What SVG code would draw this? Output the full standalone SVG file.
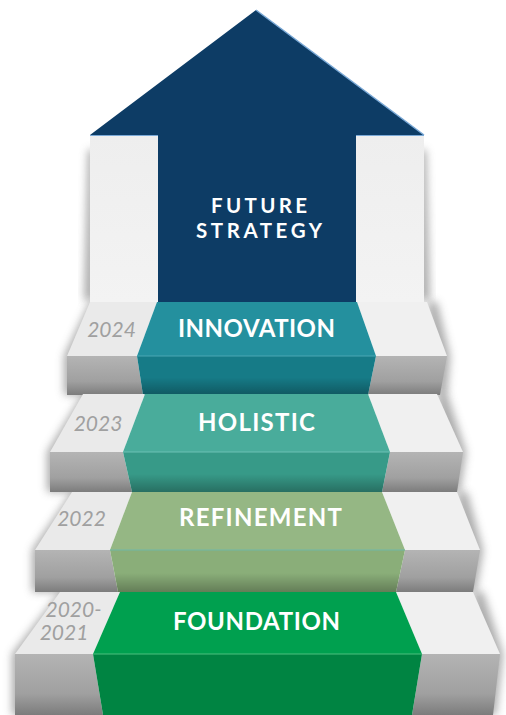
<svg xmlns="http://www.w3.org/2000/svg" width="506" height="715" viewBox="0 0 506 715">
<style>
.lbl{font-family:Lato,"Open Sans","Liberation Sans",sans-serif;font-weight:700;fill:#ffffff;font-size:24px;text-anchor:middle}
.fut{font-family:Lato,"Open Sans","Liberation Sans",sans-serif;font-weight:700;fill:#ffffff;font-size:20.5px;text-anchor:middle}
.yr{font-family:Lato,"Open Sans","Liberation Sans",sans-serif;font-style:italic;font-weight:400;fill:#a0a0a0;font-size:21px;text-anchor:middle}
.wtop{fill:#eaeaea}
.wtopr{fill:#f0f0f0}
.gfront{fill:url(#gfr)}
.shade{fill:url(#bshade)}
.sh{fill:#5a5a5a;opacity:0.5;filter:url(#blur)}
</style>
<defs>
<linearGradient id="gfr" x1="0" y1="0" x2="0" y2="1">
<stop offset="0" stop-color="#b4b4b4"/>
<stop offset="0.65" stop-color="#a0a0a0"/>
<stop offset="1" stop-color="#7c7c7c"/>
</linearGradient>
<linearGradient id="bshade" x1="0" y1="0" x2="0" y2="1">
<stop offset="0" stop-color="#000" stop-opacity="0"/>
<stop offset="0.55" stop-color="#000" stop-opacity="0"/>
<stop offset="1" stop-color="#000" stop-opacity="0.28"/>
</linearGradient>
<linearGradient id="panel" x1="0" y1="0" x2="0" y2="1">
<stop offset="0" stop-color="#eeeeee"/>
<stop offset="1" stop-color="#f3f3f3"/>
</linearGradient>
<filter id="blur" x="-50%" y="-30%" width="200%" height="160%">
<feGaussianBlur stdDeviation="4.5"/>
</filter>
</defs>
<rect width="506" height="715" fill="#ffffff"/>

<g id="shadows">
<polygon class="sh" points="88,150 96,150 96,300 84,300"/>
<polygon class="sh" points="418,150 426,150 430,300 418,300"/>
<polygon class="sh" points="90,302 100,302 100,395 64,395 64,356"/>
<polygon class="sh" points="427,302 437,302 450,356 447,395 437,395"/>
<polygon class="sh" points="83,394 95,394 95,492 47,492 47,452"/>
<polygon class="sh" points="437,394 447,394 466,452 460,492 447,492"/>
<polygon class="sh" points="72,492 85,492 85,592 32,592 32,550"/>
<polygon class="sh" points="457,492 467,492 483,550 476,592 467,592"/>
<polygon class="sh" points="60,592 75,592 75,715 12,715 12,654"/>
<polygon class="sh" points="473,592 483,592 503,654 496,715 483,715"/>
</g>

<g id="arrow">
<rect x="90" y="135" width="68" height="167" fill="url(#panel)"/>
<rect x="356" y="135" width="68" height="167" fill="url(#panel)"/>
<polygon points="256,10 424,135 356,135 356,302 158,302 158,135 90,135" fill="#0d3c65"/>
<line x1="256" y1="10" x2="424" y2="135" stroke="#79a8d6" stroke-width="1.5"/>
<line x1="90" y1="135.5" x2="158" y2="135.5" stroke="#79a8d6" stroke-width="1"/>
<line x1="356" y1="135.5" x2="424" y2="135.5" stroke="#79a8d6" stroke-width="1"/>
<text class="fut" x="259" y="213" textLength="96" lengthAdjust="spacing">FUTURE</text>
<text class="fut" x="259" y="238" textLength="126" lengthAdjust="spacing">STRATEGY</text>
</g>

<g id="step-2024">
<polygon class="wtop" points="90,302 157,302 137,356 67,356"/>
<polygon class="gfront" points="67,356 137,356 143,395 67,395"/>
<polygon class="wtopr" points="357,302 427,302 447,356 376,356"/>
<polygon class="gfront" points="376,356 447,356 440,395 368,395"/>
<polygon points="157,302 357,302 376,356 137,356" fill="#24909e"/>
<polygon points="137,356 376,356 368,395 143,395" fill="#167b87"/>
<polygon class="shade" points="137,356 376,356 368,395 143,395"/>
<line x1="137" y1="356" x2="376" y2="356" stroke="#4aa7b4" stroke-width="1"/>
<text class="yr" x="111.5" y="337">2024</text>
<text class="lbl" x="256.5" y="337" textLength="157" lengthAdjust="spacing">INNOVATION</text>
</g>

<g id="step-2023">
<polygon class="wtop" points="83,394 145,394 123,452 50,452"/>
<polygon class="gfront" points="50,452 123,452 132,492 50,492"/>
<polygon class="wtopr" points="368,394 437,394 463,452 390,452"/>
<polygon class="gfront" points="390,452 463,452 457,492 382,492"/>
<polygon points="145,394 368,394 390,452 123,452" fill="#49ac9b"/>
<polygon points="123,452 390,452 382,492 132,492" fill="#379a88"/>
<polygon class="shade" points="123,452 390,452 382,492 132,492"/>
<line x1="123" y1="452" x2="390" y2="452" stroke="#6cc0b4" stroke-width="1"/>
<text class="yr" x="98" y="431">2023</text>
<text class="lbl" x="256.5" y="431" textLength="117" lengthAdjust="spacing">HOLISTIC</text>
</g>

<g id="step-2022">
<polygon class="wtop" points="72,492 132,492 110,550 35,550"/>
<polygon class="gfront" points="35,550 110,550 118,592 35,592"/>
<polygon class="wtopr" points="382,492 457,492 480,550 405,550"/>
<polygon class="gfront" points="405,550 480,550 473,592 396,592"/>
<polygon points="132,492 382,492 405,550 110,550" fill="#95b784"/>
<polygon points="110,550 405,550 396,592 118,592" fill="#8aae79"/>
<polygon class="shade" points="110,550 405,550 396,592 118,592"/>
<line x1="110" y1="550" x2="405" y2="550" stroke="#6fb7a8" stroke-width="1"/>
<text class="yr" x="81.5" y="526">2022</text>
<text class="lbl" x="260.5" y="526" textLength="163" lengthAdjust="spacing">REFINEMENT</text>
</g>

<g id="step-2020-2021">
<polygon class="wtop" points="60,592 120,592 93,654 15,654"/>
<polygon class="gfront" points="15,654 93,654 103,715 15,715"/>
<polygon class="wtopr" points="396,592 473,592 500,654 422,654"/>
<polygon class="gfront" points="422,654 500,654 493,715 412,715"/>
<polygon points="120,592 396,592 422,654 93,654" fill="#00a04f"/>
<polygon points="93,654 422,654 412,715 103,715" fill="#008442"/>
<line x1="93" y1="654" x2="422" y2="654" stroke="#4cbf7e" stroke-width="1"/>
<text class="yr" x="73.5" y="617">2020-</text>
<text class="yr" x="64" y="640">2021</text>
<text class="lbl" x="256.5" y="630" textLength="167" lengthAdjust="spacing">FOUNDATION</text>
</g>
</svg>
